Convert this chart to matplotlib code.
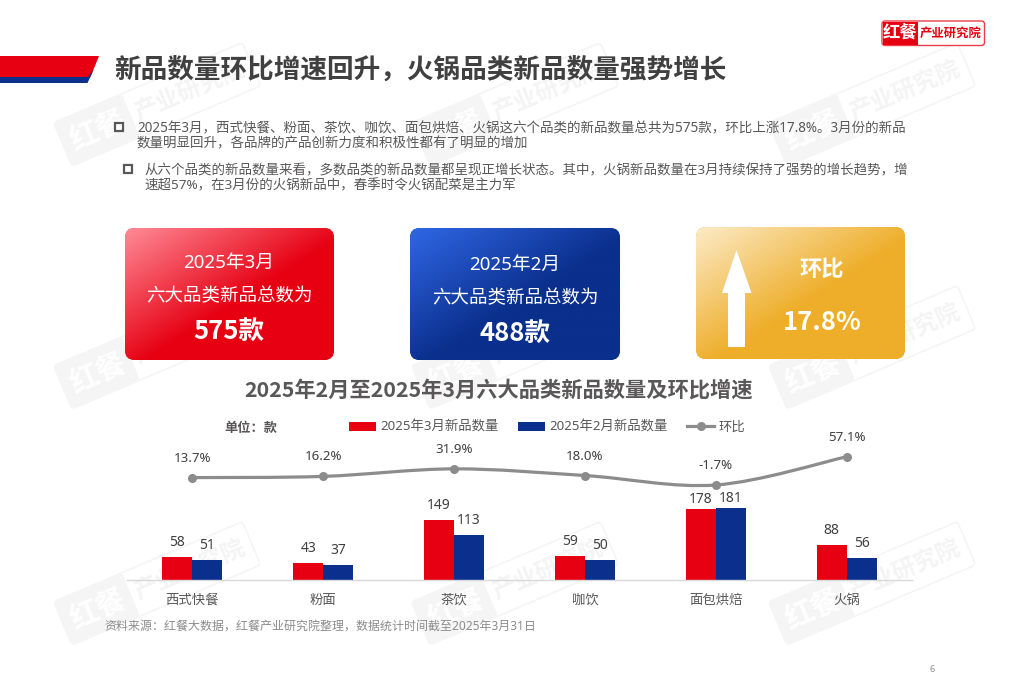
import numpy as np
from matplotlib import pyplot as plt
from matplotlib.lines import Line2D
from matplotlib.patches import FancyBboxPatch, PathPatch, Polygon, Rectangle
from matplotlib.path import Path
from matplotlib.transforms import Affine2D

plt.rcParams["font.family"] = ["Noto Sans", "Noto Sans CJK SC"]

RED = "#e60012"
BLUE = "#0a2f8c"
GREY = "#8c8c8c"
TEXT = "#595757"
DARK = "#404040"
BOLD = ["Noto Sans CJK SC"]

categories = ["西式快餐", "粉面", "茶饮", "咖饮", "面包烘焙", "火锅"]
march_counts = [58, 43, 149, 59, 178, 88]
feb_counts = [51, 37, 113, 50, 181, 56]
mom_growth = [13.7, 16.2, 31.9, 18.0, -1.7, 57.1]

title = "新品数量环比增速回升，火锅品类新品数量强势增长"
chart_title = "2025年2月至2025年3月六大品类新品数量及环比增速"
source = "资料来源：红餐大数据，红餐产业研究院整理，数据统计时间截至2025年3月31日"
para_1 = [
    "2025年3月，西式快餐、粉面、茶饮、咖饮、面包烘焙、火锅这六个品类的新品数量总共为575款，环比上涨17.8%。3月份的新品",
    "数量明显回升，各品牌的产品创新力度和积极性都有了明显的增加",
]
para_2 = [
    "从六个品类的新品数量来看，多数品类的新品数量都呈现正增长状态。其中，火锅新品数量在3月持续保持了强势的增长趋势，增",
    "速超57%，在3月份的火锅新品中，春季时令火锅配菜是主力军",
]

fig = plt.figure(figsize=(10.2, 6.8), dpi=100, facecolor="white")

# page axes in pixel coordinates for everything around the chart
page = fig.add_axes([0, 0, 1, 1], zorder=0)
page.set_axis_off()


def reset_page():
    page.set_xlim(0, 1020)
    page.set_ylim(680, 0)
    page.set_aspect("auto")


reset_page()
renderer = fig.canvas.get_renderer()


def fit_text(x, y, s, width, **kwargs):
    # scale the font so the string spans the given pixel width
    t = page.text(x, y, s, va="center", fontsize=10, **kwargs)
    size = 10 * width / t.get_window_extent(renderer).width
    t.set_fontsize(size)
    return size


def round_box(x0, y0, x1, y1, r, **kwargs):
    box = FancyBboxPatch(
        (x0 + r, y0 + r),
        x1 - x0 - 2 * r,
        y1 - y0 - 2 * r,
        boxstyle=f"round,pad={r},rounding_size={r}",
        **kwargs,
    )
    page.add_patch(box)
    return box


def gradient_card(x0, y0, x1, y1, start, end, stop=0.55):
    box = round_box(x0, y0, x1, y1, 10, fc=end, ec="none", zorder=3)
    u, v = np.meshgrid(np.linspace(0, 1, 240), np.linspace(0, 1, 150))
    ramp = np.clip((u + v) / 2 / stop, 0, 1)[..., None]
    c0 = np.array(plt.matplotlib.colors.to_rgb(start))
    c1 = np.array(plt.matplotlib.colors.to_rgb(end))
    im = page.imshow(
        c0 + (c1 - c0) * ramp,
        extent=(x0, x1, y1, y0),
        origin="upper",
        interpolation="bilinear",
        zorder=3.1,
    )
    im.set_clip_path(box)
    reset_page()


def watermark(x0, y0):
    # tile is rotated around its lower corner, y axis points down
    rot = Affine2D().rotate_deg(-23).translate(x0, y0) + page.transData
    page.add_patch(
        FancyBboxPatch(
            (3, -44), 199, 41, boxstyle="round,pad=3,rounding_size=4",
            fc="none", ec="#f5f5f5", lw=1.2, transform=rot, zorder=1,
        )
    )
    page.add_patch(
        FancyBboxPatch(
            (3, -44), 68, 41, boxstyle="round,pad=3,rounding_size=4",
            fc="#f5f5f5", ec="none", transform=rot, zorder=1,
        )
    )
    page.text(38, -23, "红餐", color="white", fontsize=21, family=BOLD, weight="bold",
              ha="center", va="center", rotation=23, rotation_mode="anchor",
              transform=rot, zorder=1.1)
    page.text(138, -23, "产业研究院", color="#f4f4f4", fontsize=17, family=BOLD, weight="bold",
              ha="center", va="center", rotation=23, rotation_mode="anchor",
              transform=rot, zorder=1.1)


for col in [72, 430, 787]:
    for row in [166, 409, 645]:
        watermark(col, row)

# header band
page.add_patch(Polygon([(0, 56), (99, 56), (90.5, 77), (0, 77)], fc=RED, ec="none", zorder=2))
page.add_patch(Polygon([(0, 77), (88, 77), (93.5, 70), (87.5, 83), (0, 83)], fc=BLUE, ec="none", zorder=2))
fit_text(114, 70.5, title, 612, color=DARK, family=BOLD, weight="bold", zorder=5)

# logo
round_box(882, 21, 984.5, 45.5, 3, fc="white", ec="#ee3d4a", lw=1, zorder=4)
page.add_patch(Rectangle((883, 21.5), 35, 23.5, fc=RED, ec="none", zorder=4.1))
page.text(900, 33, "红餐", color="white", fontsize=12.5, family=BOLD, weight="bold",
          ha="center", va="center", zorder=5)
page.text(950.5, 33.5, "产业研究院", color=RED, fontsize=8.9, family=BOLD, weight="bold",
          ha="center", va="center", zorder=5)

# intro text
body = fit_text(137, 128.5, para_1[0], 768, color=TEXT, zorder=5)
page.text(137, 144, para_1[1], color=TEXT, fontsize=body, va="center", zorder=5)
body2 = fit_text(144, 170.5, para_2[0], 761, color=TEXT, zorder=5)
page.text(144, 185.5, para_2[1], color=TEXT, fontsize=body2, va="center", zorder=5)
for bx, by in [(115, 123), (124, 165)]:
    page.add_patch(Rectangle((bx, by), 8, 8, fc="white", ec=TEXT, lw=1.6, zorder=5))

# summary cards
gradient_card(125, 228, 334, 360, "#ff8b97", RED)
gradient_card(410, 228, 620, 360, "#3067e6", BLUE)
gradient_card(696, 227, 905, 359, "#fcebc8", "#eeae2a")
for cx, ys, month, total in [
    (229, (262.5, 296, 331), "2025年3月", "575款"),
    (515, (264.5, 298, 333), "2025年2月", "488款"),
]:
    page.text(cx, ys[0], month, color="white", fontsize=13.5, ha="center", va="center", zorder=5)
    page.text(cx, ys[1], "六大品类新品总数为", color="white", fontsize=13.3, ha="center", va="center", zorder=5)
    page.text(cx, ys[2], total, color="white", fontsize=18.5, family=BOLD, weight="bold", ha="center", va="center", zorder=5)
page.text(822, 269.5, "环比", color="white", fontsize=16, family=BOLD, weight="bold", ha="center", va="center", zorder=5)
page.text(822, 322.5, "17.8%", color="white", fontsize=18.5, family=BOLD, weight="bold", ha="center", va="center", zorder=5)
page.add_patch(
    Polygon(
        [(736.5, 250), (751.5, 293), (745, 293), (745, 347), (728, 347), (728, 293), (722, 293)],
        fc="white", ec="none", zorder=5,
    )
)

# chart headings and footer
fit_text(244, 390, chart_title, 510, color=TEXT, family=BOLD, weight="bold", zorder=5)
page.text(224, 428, "单位：款", color=TEXT, fontsize=9.5, family=BOLD, weight="bold", va="center", zorder=5)
fit_text(104, 626, source, 430, color=GREY, zorder=5)
page.text(932, 669.5, "6", color=GREY, fontsize=6.5, ha="center", va="center", zorder=5)

# chart axes, pixel box 127..912 wide and baseline at y=580
ax = fig.add_axes([127 / 1020, 100 / 680, 785 / 1020, 140 / 680], zorder=2)
ax.patch.set_alpha(0)
x = np.arange(len(categories))
width = 0.229
bars_mar = ax.bar(x - width / 2, march_counts, width, color=RED, label="2025年3月新品数量")
bars_feb = ax.bar(x + width / 2, feb_counts, width, color=BLUE, label="2025年2月新品数量")
ax.set_xlim(-0.5, 5.5)
ax.set_ylim(0, 350)
ax.set_yticks([])
ax.set_xticks(x, categories, color=TEXT, fontsize=9.6)
ax.tick_params(axis="x", length=0, pad=10)
for side in ["top", "left", "right"]:
    ax.spines[side].set_visible(False)
ax.spines["bottom"].set_color("#d9d9d9")
ax.spines["bottom"].set_linewidth(1)

for bars in [bars_mar, bars_feb]:
    for b in bars:
        # the tallest pair sits closer to its bars to stay clear of the line
        lift = 6.5 if b.get_height() > 170 else 10.5
        ax.annotate(
            f"{b.get_height()}",
            (b.get_x() + b.get_width() / 2, b.get_height()),
            xytext=(0, lift), textcoords="offset points",
            ha="center", va="center", color=DARK, fontsize=10,
        )

# growth line on its own scale, smoothed with bezier segments
ax2 = ax.twinx()
ax2.patch.set_alpha(0)
ax2.set_ylim(-199.6, 92)
ax2.set_yticks([])
for side in ax2.spines:
    ax2.spines[side].set_visible(False)

pts = np.column_stack([x, mom_growth])
verts = [pts[0]]
codes = [Path.MOVETO]
for i in range(len(pts) - 1):
    before = pts[max(i - 1, 0)]
    after = pts[min(i + 2, len(pts) - 1)]
    verts += [pts[i] + (pts[i + 1] - before) / 6, pts[i + 1] - (after - pts[i]) / 6, pts[i + 1]]
    codes += [Path.CURVE4] * 3
ax2.add_patch(PathPatch(Path(verts, codes), fc="none", ec=GREY, lw=2.3))
ax2.plot(x, mom_growth, "o", color=GREY, ms=6.5, mec="none")
for xi, val in zip(x, mom_growth):
    ax2.annotate(
        f"{val}%", (xi, val), xytext=(0, 14), textcoords="offset points",
        ha="center", va="center", color=DARK, fontsize=9.6, annotation_clip=False,
    )

handles = [
    bars_mar,
    bars_feb,
    Line2D([], [], color=GREY, lw=2.3, marker="o", ms=6.5, mec="none"),
]
ax2.legend(
    handles,
    ["2025年3月新品数量", "2025年2月新品数量", "环比"],
    ncol=3,
    loc="center left",
    bbox_to_anchor=(349, 427.5),
    bbox_transform=page.transData,
    frameon=False,
    borderpad=0,
    borderaxespad=0,
    fontsize=9.6,
    labelcolor=TEXT,
    handlelength=2.05,
    handleheight=0.7,
    handletextpad=0.3,
    columnspacing=1.45,
)

fig.savefig("out.png", dpi=100)
